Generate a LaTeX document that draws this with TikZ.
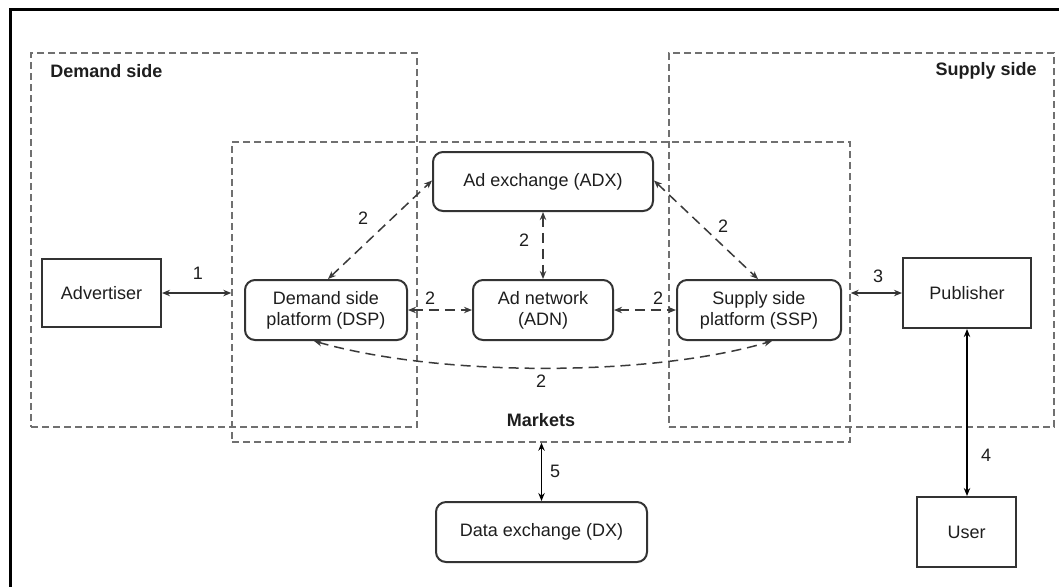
\documentclass[tikz,border=0pt]{standalone}
\usepackage{fontspec}
\setmainfont{Liberation Sans}
\usetikzlibrary{arrows.meta}
\definecolor{ink}{HTML}{1E1E1E}
\definecolor{frame}{HTML}{333333}
\definecolor{zone}{HTML}{707070}
\definecolor{link}{HTML}{3A3A3A}
\begin{document}
\begin{tikzpicture}[x=0.5pt,y=-0.5pt,
  font=\fontsize{9}{10.5}\selectfont, text=ink,
  zonebox/.style={draw=zone, line width=0.7pt, dash pattern=on 3.5pt off 2pt, inner sep=0pt},
  plainbox/.style={draw=frame, line width=1pt, inner sep=0pt, align=center},
  roundbox/.style={plainbox, rounded corners=5pt},
  tip/.style={Stealth[length=4pt,width=3.2pt]},
  dlink/.style={draw=link, line width=0.75pt, dash pattern=on 5pt off 3pt, {Stealth[length=4pt,width=3.2pt]}-{Stealth[length=4pt,width=3.2pt]}},
  slink/.style={line width=0.75pt, {Stealth[length=4pt,width=3.2pt]}-{Stealth[length=4pt,width=3.2pt]}},
  num/.style={inner sep=0pt},
  zonelabel/.style={font=\fontsize{9}{10.5}\selectfont\bfseries, inner sep=0pt}]

\useasboundingbox (0,0) rectangle (1059,586);
\fill[white] (0,0) rectangle (1059,586);

% page frame
\draw[black, line width=1.5pt] (10,600) -- (10,9) -- (1075,9);

% zones
\node[zonebox, minimum width=193pt, minimum height=187pt] (demand) at (224,240) {};
\node[zonebox, minimum width=192.5pt, minimum height=187pt] (supply) at (861.5,240) {};
\node[zonebox, minimum width=309pt, minimum height=150pt] (markets) at (541,292) {};
\node[zonelabel, anchor=west] (demandlbl) at (50,71) {Demand side};
\node[zonelabel, anchor=east] (supplylbl) at (1037,71) {Supply side};
\node[zonelabel] (marketslbl) at (541,420) {Markets};

% actors
\node[plainbox, minimum width=59.5pt, minimum height=34pt] (adv) at (101.5,293) {Advertiser};
\node[plainbox, minimum width=64pt, minimum height=35pt] (pub) at (967,293) {Publisher};
\node[plainbox, minimum width=49.5pt, minimum height=35pt] (user) at (966.5,532) {User};

% platforms
\node[roundbox, minimum width=81pt, minimum height=30pt] (dsp) at (326,310) {Demand side\\platform (DSP)};
\node[roundbox, minimum width=110pt, minimum height=29.5pt] (adx) at (543,181.5) {Ad exchange (ADX)};
\node[roundbox, minimum width=70pt, minimum height=30pt] (adn) at (543,310) {Ad network\\(ADN)};
\node[roundbox, minimum width=82pt, minimum height=30pt] (ssp) at (759,310) {Supply side\\platform (SSP)};
\node[roundbox, minimum width=105.5pt, minimum height=30pt] (dx) at (541.5,532) {Data exchange (DX)};

% market-internal links
\draw[dlink] ([xshift=1pt]dsp.north) -- ([yshift=0.5pt]adx.west);
\draw[dlink] (adx.south) -- (adn.north);
\draw[dlink] ([yshift=0.5pt]adx.east) -- ([xshift=-0.5pt]ssp.north);
\draw[dlink] (dsp.east) -- (adn.west);
\draw[dlink] (adn.east) -- (ssp.west);
\draw[dlink] ([xshift=-6pt]dsp.south) .. controls (440,377) and (650,377) .. ([xshift=6.5pt]ssp.south);

% outer links
\draw[slink, draw=frame] (adv.east) -- (adv.east -| markets.west);
\draw[slink, draw=frame] (pub.west -| markets.east) -- (pub.west);
\draw[slink, draw=black] (pub.south) -- (pub.south |- user.north);
\draw[slink, draw=black] (dx.north |- markets.south) -- (dx.north);

% link numbers
\node[num] (n1) at (198,273) {1};
\node[num] (n3) at (878,276) {3};
\node[num] (n4) at (986,455) {4};
\node[num] (n5) at (555,471) {5};
\node[num] (n2a) at (363,218) {2};
\node[num] (n2b) at (524,240) {2};
\node[num] (n2c) at (723,226) {2};
\node[num] (n2d) at (430,298) {2};
\node[num] (n2e) at (658,298) {2};
\node[num] (n2f) at (541,381) {2};
\end{tikzpicture}
\end{document}
